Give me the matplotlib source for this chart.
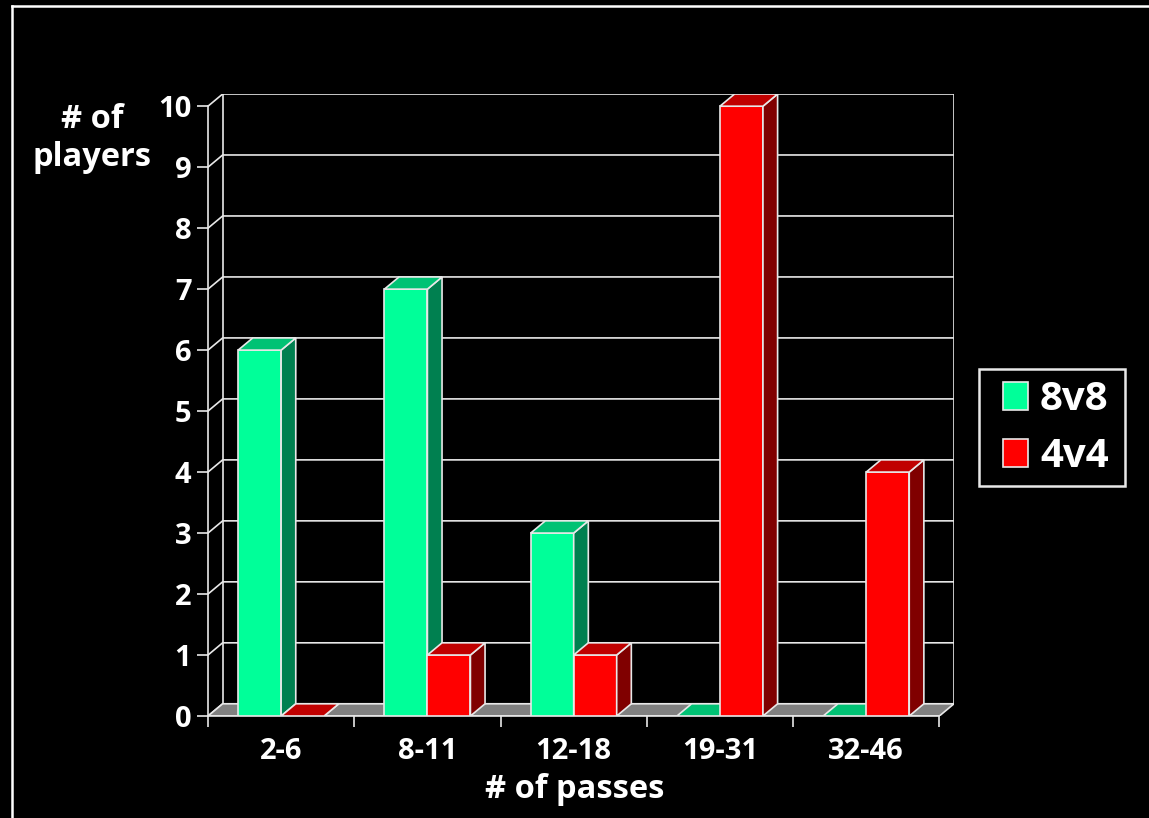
import matplotlib
matplotlib.use('Agg')
import matplotlib.pyplot as plt
from matplotlib.patches import Polygon, Patch, Rectangle
from matplotlib.lines import Line2D

# dados do grafico
categorias = ['2-6', '8-11', '12-18', '19-31', '32-46']
jogadores_8v8 = [6, 7, 3, 0, 0]
jogadores_4v4 = [0, 1, 1, 10, 4]
valores_y = list(range(0, 11))

# cores (frente, topo, lateral)
cores_8v8 = ('#00FF99', '#00C274', '#008050')
cores_4v4 = ('#FF0000', '#C00000', '#800000')
cor_linha = '#E8E8E8'
cor_chao = '#808080'

FONTE = ['Open Sans', 'DejaVu Sans']
W, H = 1149, 818

# profundidade do efeito 3D em unidades de dados
dx, dy = 0.1, 0.2
largura = 0.294


def desenhar_barra(ax, x0, h, cores, z):
    frente, topo, lado = cores
    kw = dict(edgecolor=cor_linha, linewidth=1.2, joinstyle='miter', zorder=z)
    ax.add_patch(Polygon([(x0, 0), (x0 + largura, 0), (x0 + largura, h), (x0, h)],
                         facecolor=frente, **kw))
    ax.add_patch(Polygon([(x0 + largura, 0), (x0 + largura + dx, dy),
                          (x0 + largura + dx, h + dy), (x0 + largura, h)],
                         facecolor=lado, **kw))
    ax.add_patch(Polygon([(x0, h), (x0 + largura, h), (x0 + largura + dx, h + dy),
                          (x0 + dx, h + dy)], facecolor=topo, **kw))


fig = plt.figure(figsize=(W / 100, H / 100), dpi=100, facecolor='black')
ax = fig.add_axes([208 / W, 1 - 716 / H, 746 / W, 622 / H])
ax.set_facecolor('none')
n = len(categorias)
ax.set_xlim(0, n + dx)
ax.set_ylim(0, valores_y[-1] + dy)

# paredes e linhas de grade
for v in valores_y:
    ax.plot([0, dx, n + dx], [v, v + dy, v + dy], color=cor_linha, lw=1.2, zorder=1)
ax.plot([dx, dx], [dy, valores_y[-1] + dy], color=cor_linha, lw=1.2, zorder=1)
ax.plot([n + dx, n + dx], [dy, valores_y[-1] + dy], color=cor_linha, lw=1.2, zorder=1)

# chao
ax.add_patch(Polygon([(0, 0), (n, 0), (n + dx, dy), (dx, dy)], facecolor=cor_chao,
                     edgecolor=cor_linha, linewidth=1.2, zorder=1.5))

# barras (da esquerda para a direita)
z = 3
for i in range(n):
    desenhar_barra(ax, i + 0.5 - largura, jogadores_8v8[i], cores_8v8, z)
    desenhar_barra(ax, i + 0.5, jogadores_4v4[i], cores_4v4, z + 1)
    z += 2

# eixos
for lado in ['top', 'right']:
    ax.spines[lado].set_visible(False)
ax.spines['left'].set_bounds(0, valores_y[-1])
ax.spines['bottom'].set_bounds(0, n)
for lado in ['left', 'bottom']:
    ax.spines[lado].set_color(cor_linha)
    ax.spines[lado].set_linewidth(1.2)
    ax.spines[lado].set_zorder(2.5)

ax.set_yticks(valores_y)
ax.set_yticklabels([str(v) for v in valores_y])
ax.set_xticks(range(n + 1))
ax.set_xticklabels([])
ax.set_xticks([i + 0.5 for i in range(n)], minor=True)
ax.set_xticklabels(categorias, minor=True)
ax.tick_params(axis='y', length=8, width=1.2, color=cor_linha, pad=4, labelcolor='white')
ax.tick_params(axis='x', which='major', length=8, width=1.2, color=cor_linha)
ax.tick_params(axis='x', which='minor', length=0, pad=15, labelcolor='white')
for t in ax.get_yticklabels() + ax.get_xticklabels(minor=True):
    t.set_fontfamily(FONTE)
    t.set_fontweight('bold')
    t.set_fontsize(21)

fig.text(575 / W, 1 - 790 / H, '# of passes', color='white', fontsize=23.5,
         fontweight='bold', family=FONTE, ha='center', va='center')
fig.text(92 / W, 1 - 138 / H, '# of\nplayers', color='white', fontsize=23.5,
         fontweight='bold', family=FONTE, ha='center', va='center', linespacing=1.2)

# legenda (moldura desenhada a parte)
fig.add_artist(Rectangle((979 / W, 1 - 486 / H), 146 / W, 117 / H, transform=fig.transFigure,
                         facecolor='black', edgecolor=cor_linha, linewidth=1.8, zorder=4))
handles = [Patch(facecolor=cores_8v8[0], edgecolor=cor_linha, linewidth=1.2, label='8v8'),
           Patch(facecolor=cores_4v4[0], edgecolor=cor_linha, linewidth=1.2, label='4v4')]
leg = fig.legend(handles=handles, loc='center left', bbox_to_anchor=(1003 / W, 1 - 428 / H),
                 bbox_transform=fig.transFigure, borderaxespad=0, frameon=False,
                 prop={'family': FONTE, 'weight': 'bold', 'size': 29},
                 handlelength=0.62, handleheight=0.68, handletextpad=0.3,
                 labelspacing=0.45, borderpad=0)
leg.set_zorder(5)
for t in leg.get_texts():
    t.set_color('white')

# moldura
fig.add_artist(Line2D([11.5 / W, 1], [1 - 6 / H, 1 - 6 / H], color='white', lw=1.8))
fig.add_artist(Line2D([11.5 / W, 11.5 / W], [0, 1 - 6 / H], color='white', lw=1.8))

fig.savefig('out.png', dpi=100, facecolor='black')
